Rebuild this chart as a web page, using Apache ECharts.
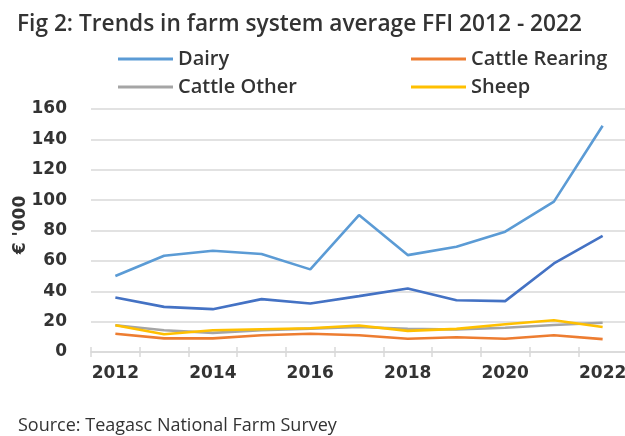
<!DOCTYPE html>
<html>
<head>
<meta charset="utf-8">
<script src="https://cdn.jsdelivr.net/npm/echarts@6/dist/echarts.min.js"></script>
<style>html,body{margin:0;padding:0;background:#fff;}#c{width:625px;height:436px;}</style>
</head>
<body>
<div id="c"></div>
<script>
var years = ['2012','2013','2014','2015','2016','2017','2018','2019','2020','2021','2022'];
var dairy = [50.0, 63.4, 66.7, 64.5, 54.4, 90.2, 63.8, 69.3, 79.2, 99.0, 149.0];
var cattleRearing = [12.0, 9.0, 9.0, 11.0, 12.0, 11.0, 8.7, 9.7, 8.7, 11.0, 8.5];
var cattleOther = [17.6, 14.3, 12.6, 14.3, 15.4, 16.5, 15.2, 14.8, 16.0, 17.8, 19.3];
var sheep = [17.6, 11.7, 14.3, 15.0, 15.6, 17.4, 13.9, 15.2, 18.3, 20.9, 16.5];
var tillage = [35.9, 29.7, 28.2, 34.8, 31.9, 36.8, 41.8, 34.1, 33.5, 58.3, 76.4];
var yTicks = [0, 20, 40, 60, 80, 100, 120, 140, 160];

var chart = echarts.init(document.getElementById('c'), null, {renderer: 'canvas'});
var txt = '#333333';
var legFont = {fontFamily: 'Open Sans', fontSize: 20, fontWeight: 600, color: txt, lineHeight: 22};
function leg(name, left, top) {
  return {data: [name], left: left, top: top, padding: 0, icon: 'rect', itemWidth: 55, itemHeight: 3,
    itemGap: 0, textStyle: legFont, selectedMode: false};
}
function ser(name, data, color) {
  return {name: name, type: 'line', data: data, symbol: 'none', smooth: false,
    lineStyle: {color: color, width: 2.6}, itemStyle: {color: color}, animation: false};
}
chart.setOption({
  animation: false,
  title: [
    {text: 'Fig 2: Trends in farm system average FFI 2012 - 2022', left: 12, top: 8,
     textStyle: {fontFamily: 'Open Sans', fontSize: 22.7, fontWeight: 600, color: txt}},
    {text: 'Source: Teagasc National Farm Survey', left: 13, top: 412,
     textStyle: {fontFamily: 'Open Sans', fontSize: 18, fontWeight: 'normal', color: txt}}
  ],
  legend: [leg('Dairy', 118, 48), leg('Cattle Rearing', 411, 48), leg('Cattle Other', 118, 76), leg('Sheep', 411, 76)],
  graphic: [{type: 'text', x: 21, y: 225, rotation: Math.PI / 2,
    style: {text: "€ '000", font: 'bold 17px "DejaVu Sans"', fill: txt, textAlign: 'center', textVerticalAlign: 'middle'}}],
  grid: {left: 91, right: -2, top: 109, bottom: 84, containLabel: false, outerBoundsMode: 'none'},
  xAxis: [
    {type: 'category', data: years, boundaryGap: true,
     axisLine: {show: true, lineStyle: {color: '#d9d9d9', width: 1.5}},
     axisTick: {show: true, interval: 0, length: 5, lineStyle: {color: '#d9d9d9', width: 1.5}},
     axisLabel: {interval: 1, margin: 13, fontFamily: 'DejaVu Sans', fontWeight: 'bold', fontSize: 17, color: txt},
     splitLine: {show: false}},
    {type: 'category', data: years, boundaryGap: true, position: 'bottom',
     axisLine: {show: false},
     axisTick: {show: true, inside: true, interval: 0, length: 5, lineStyle: {color: '#d9d9d9', width: 1.5}},
     axisLabel: {show: false}, splitLine: {show: false}}
  ],
  yAxis: {type: 'value', min: yTicks[0], max: yTicks[yTicks.length - 1], interval: 20,
    axisLine: {show: false}, axisTick: {show: false},
    axisLabel: {margin: 24, fontFamily: 'DejaVu Sans', fontWeight: 'bold', fontSize: 17, color: txt},
    splitLine: {lineStyle: {color: '#d9d9d9', width: 1.5}}},
  series: [
    ser('Dairy', dairy, '#5B9BD5'),
    ser('Cattle Rearing', cattleRearing, '#ED7D31'),
    ser('Cattle Other', cattleOther, '#A5A5A5'),
    ser('Sheep', sheep, '#FFC000'),
    ser('Tillage', tillage, '#4472C4')
  ]
});
</script>
</body>
</html>
